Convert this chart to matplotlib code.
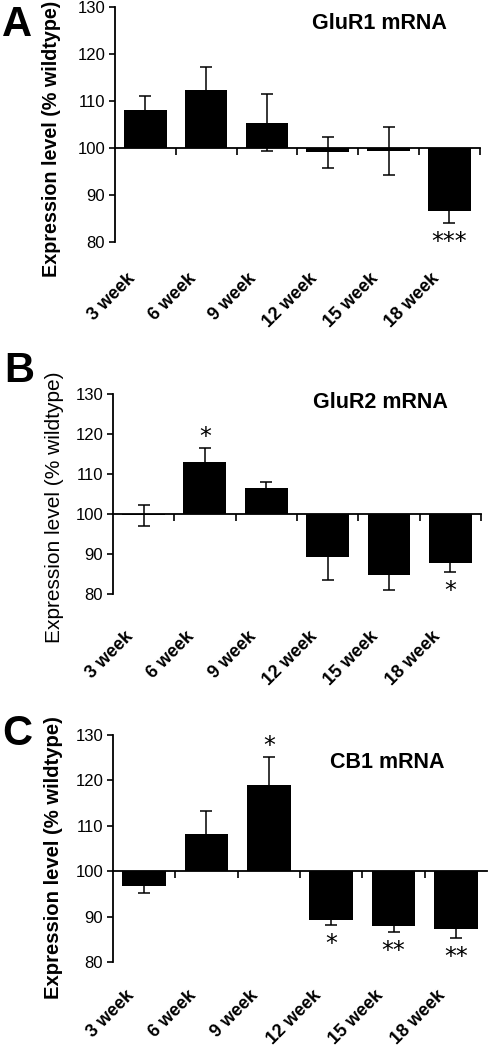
import matplotlib
matplotlib.use("Agg")
from matplotlib import pyplot as plt
from matplotlib.transforms import ScaledTranslation
import numpy as np

plt.rcParams["font.family"] = ["Liberation Sans", "DejaVu Sans"]

weeks = ["3 week", "6 week", "9 week", "12 week", "15 week", "18 week"]

# % of wildtype, mean and error bar half-length
glur1_mean = [108.0, 112.4, 105.4, 99.1, 99.4, 86.5]
glur1_err = [3.1, 4.8, 6.0, 3.3, 5.1, 2.5]
glur1_sig = ["", "", "", "", "", "***"]

glur2_mean = [99.7, 113.0, 106.6, 89.3, 84.7, 87.8]
glur2_err = [2.6, 3.4, 1.4, 5.7, 3.7, 2.2]
glur2_sig = ["", "*", "", "", "", "*"]

cb1_mean = [96.8, 108.3, 119.1, 89.3, 88.0, 87.4]
cb1_err = [1.6, 5.0, 6.1, 1.1, 1.4, 2.0]
cb1_sig = ["", "", "*", "*", "**", "**"]

fig = plt.figure(figsize=(4.89, 10.5), dpi=100)


def draw_panel(rect, means, errs, sig, title, letter, letter_pos, title_pos,
               ylab_pos, ylab_size, label_pad, bold=True, end_tick=True):
    ax = fig.add_axes(rect)
    x = np.arange(1, len(weeks) + 1)
    means = np.asarray(means)
    ax.bar(x, means - 100, bottom=100, width=0.7, color="black",
           yerr=errs, capsize=4, ecolor="black",
           error_kw=dict(elinewidth=1.1, capthick=1.1))

    ax.set_xlim(0.5, 6.5)
    ax.set_ylim(80, 130)
    ax.set_yticks(range(80, 131, 10))
    ax.tick_params(axis="y", direction="out", length=4, width=1.2,
                   labelsize=12, pad=3)
    ax.set_xticks(x)
    ax.set_xticklabels(weeks, rotation=45, ha="right", va="top",
                       fontsize=13, fontweight="bold")
    ax.tick_params(axis="x", length=0, pad=label_pad)
    shift = ScaledTranslation(-7 / 100, 0, fig.dpi_scale_trans)
    for lab in ax.get_xticklabels():
        lab.set_transform(lab.get_transform() + shift)
    for s in ["top", "right", "bottom"]:
        ax.spines[s].set_visible(False)
    ax.spines["left"].set_linewidth(1.3)

    # baseline at 100 % with category boundary ticks
    sec = ax.secondary_xaxis(100, transform=ax.transData)
    sec.set_alignment("bottom")
    bounds = x + 0.5 if end_tick else x[:-1] + 0.5
    sec.set_xticks(bounds)
    sec.set_xticklabels([])
    sec.tick_params(direction="out", length=5, width=1.2)
    sec.spines["bottom"].set_linewidth(1.3)

    # significance stars
    for xi, m, e, s in zip(x, means, errs, sig):
        if not s:
            continue
        if m >= 100:
            y, off = m + e, 8
        else:
            y, off = m - e, -13.5
        ax.annotate(s, (xi, y), xytext=(0, off), textcoords="offset points",
                    ha="center", va="center", fontsize=17,
                    family="DejaVu Sans", annotation_clip=False)

    ax.text(title_pos[0], title_pos[1], title, transform=ax.transAxes,
            ha="center", va="center", fontsize=15.5, fontweight="bold")
    ax.text(ylab_pos[0], ylab_pos[1], "Expression level (% wildtype)",
            transform=ax.transAxes, rotation=90, ha="center", va="center",
            fontsize=ylab_size, fontweight="bold" if bold else "normal")
    fig.text(letter_pos[0], letter_pos[1], letter, ha="center", va="center",
             fontsize=30, fontweight="bold")
    return ax


draw_panel([0.235, 0.7695, 0.746, 0.2238], glur1_mean, glur1_err, glur1_sig,
           "GluR1 mRNA", "A", (0.035, 0.976), (0.726, 0.928),
           (-0.173, 0.438), 14.2, 20)
draw_panel([0.231, 0.434, 0.7526, 0.1908], glur2_mean, glur2_err, glur2_sig,
           "GluR2 mRNA", "B", (0.039, 0.6467), (0.726, 0.955),
           (-0.158, 0.436), 15, 24.5, bold=False)
draw_panel([0.231, 0.0835, 0.765, 0.2165], cb1_mean, cb1_err, cb1_sig,
           "CB1 mRNA", "C", (0.036, 0.301), (0.733, 0.877),
           (-0.160, 0.463), 14.6, 17.5, end_tick=False)

fig.savefig("out.png", dpi=100)
